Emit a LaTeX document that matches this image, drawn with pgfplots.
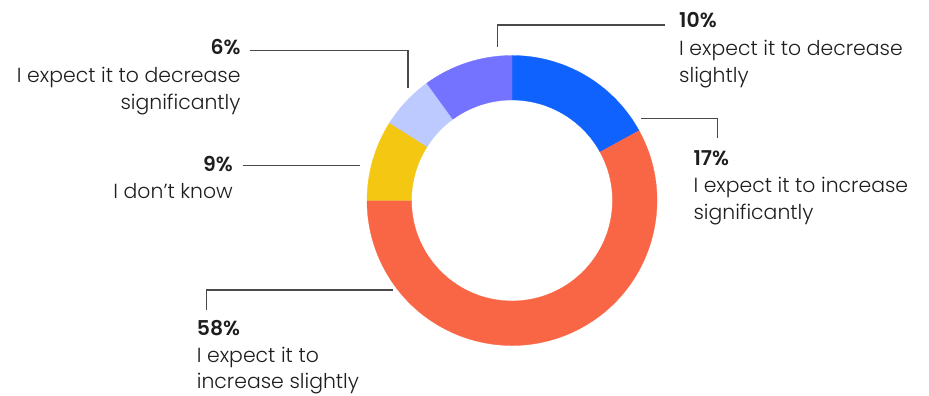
\documentclass[border=0pt]{standalone}
\usepackage{pgfplots}
\pgfplotsset{compat=1.18}
\usepackage{pgfplotstable}
\usepackage{fontspec}
\setmainfont{Poppins}[UprightFont=* Light, BoldFont=* SemiBold]
\definecolor{cblue}{HTML}{1062FE}
\definecolor{corange}{HTML}{F96645}
\definecolor{cyellow}{HTML}{F3C712}
\definecolor{clight}{HTML}{BCCAFF}
\definecolor{cpurple}{HTML}{7373FF}
\definecolor{cline}{HTML}{4A4A4A}
\definecolor{ctext}{HTML}{1E1E1E}
\newcommand\lblfont{\fontsize{20.4bp}{27bp}\selectfont}
\tikzset{lbl/.style={font=\lblfont, text=ctext, inner sep=0pt}}
\pgfplotstableread{
pct col
17 cblue
58 corange
9 cyellow
6 clight
10 cpurple
}\donutdata
\begin{document}
\begin{tikzpicture}
\begin{axis}[
  at={(0,0)}, anchor=south west,
  scale only axis, width=929bp, height=396bp,
  xmin=0, xmax=929, ymin=0, ymax=396,
  hide axis, clip=false,
]
\def\angstart{90}
\pgfplotsforeachungrouped \i in {0,...,4}{%
  \pgfplotstablegetelem{\i}{pct}\of\donutdata \let\p\pgfplotsretval
  \pgfplotstablegetelem{\i}{col}\of\donutdata \let\c\pgfplotsretval
  \pgfmathsetmacro\angend{\angstart-3.6*\p}%
  \edef\temp{\noexpand\fill[\c, draw=\c, line width=0.3bp, shift={(axis cs:512,195.5)}]
    (\angstart:145bp) arc[start angle=\angstart, end angle=\angend, radius=145bp]
    -- (\angend:100.5bp) arc[start angle=\angend, end angle=\angstart, radius=100.5bp] -- cycle;}%
  \temp
  \global\let\angstart\angend
}
% leader lines
\addplot[cline, line width=1.2bp] coordinates {(250,345.3) (408,345.3) (408,308)};
\addplot[cline, line width=1.2bp] coordinates {(243,230.3) (359.5,230.3)};
\addplot[cline, line width=1.2bp] coordinates {(497.7,349.3) (497.7,371) (665,371)};
\addplot[cline, line width=1.2bp] coordinates {(641,277.7) (717.3,277.7) (717.3,257.7)};
\addplot[cline, line width=1.2bp] coordinates {(206.7,86) (206.7,106) (393.3,106)};
% labels: 6%
\node[lbl, anchor=base east] at (axis cs:240.7,341) {\bfseries 6\%};
\node[lbl, anchor=base east] at (axis cs:240.7,313.7) {I expect it to decrease};
\node[lbl, anchor=base east] at (axis cs:240.7,286.7) {significantly};
% 9%
\node[lbl, anchor=base east] at (axis cs:233,224.3) {\bfseries 9\%};
\node[lbl, anchor=base east] at (axis cs:233,197.7) {I don’t know};
% 10%
\node[lbl, anchor=base west] at (axis cs:679,368.3) {\bfseries 10\%};
\node[lbl, anchor=base west] at (axis cs:679,340.3) {I expect it to decrease};
\node[lbl, anchor=base west] at (axis cs:679,313.7) {slightly};
% 17%
\node[lbl, anchor=base west] at (axis cs:693.3,230.3) {\bfseries 17\%};
\node[lbl, anchor=base west] at (axis cs:693.3,203.3) {I expect it to increase};
\node[lbl, anchor=base west] at (axis cs:693.3,176) {significantly};
% 58%
\node[lbl, anchor=base west] at (axis cs:196.7,60.3) {\bfseries 58\%};
\node[lbl, anchor=base west] at (axis cs:196.7,33.7) {I expect it to};
\node[lbl, anchor=base west] at (axis cs:196.7,7) {increase slightly};
\end{axis}
\pgfresetboundingbox
\useasboundingbox (0,0) rectangle (929bp,396bp);
\end{tikzpicture}
\end{document}
